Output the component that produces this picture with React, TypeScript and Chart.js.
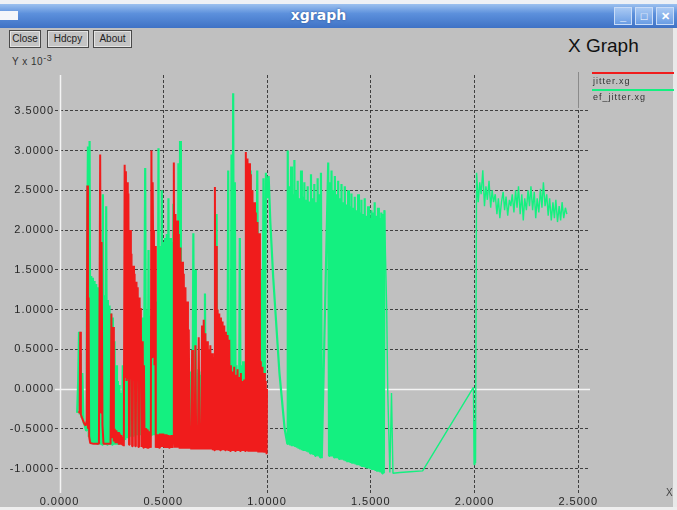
import React, { useEffect, useRef } from "react";
import { Chart, registerables } from "chart.js";

Chart.register(...registerables);

const seriesNames = ["jitter.xg", "ef_jitter.xg"];
const seriesColors = ["#f01c1c", "#14f080"];
const xTickValues = [0, 0.5, 1.0, 1.5, 2.0, 2.5];
const yTickValues = [-1.0, -0.5, 0, 0.5, 1.0, 1.5, 2.0, 2.5, 3.0, 3.5];
const windowTitle = "xgraph";
const plotTitle = "X Graph";
const buttons = ["Close", "Hdcpy", "About"];
const yUnit = "Y x 10";
const yExp = "-3";
const xUnit = "X";

// jitter.xg (red) — [x, y] pairs
const jitterLeft = [
  [0.092, -0.28], [0.097, -0.3], [0.1, 0.72], [0.103, -0.32], [0.108, -0.36], [0.114, -0.4],
  [0.12, -0.44], [0.126, -0.46], [0.131, -0.4], [0.134, 2.56], [0.137, -0.5], [0.14, 1.15],
  [0.143, -0.6], [0.148, -0.68], [0.165, -0.69], [0.19, -0.69], [0.196, 2.95], [0.2, -0.3],
  [0.203, 1.85], [0.207, -0.45], [0.212, -0.69], [0.23, -0.69], [0.246, -0.69], [0.25, 0.95],
  [0.254, -0.62], [0.258, 0.78], [0.262, -0.66], [0.266, -0.5], [0.27, -0.68], [0.274, -0.52],
  [0.278, -0.68], [0.282, -0.54], [0.286, -0.7], [0.29, -0.56], [0.294, -0.7], [0.298, -0.58],
  [0.302, -0.7], [0.306, -0.6], [0.31, -0.72],
];
const jitterMid = [
  [0.314, 2.82], [0.317, 0.15], [0.32, 2.74], [0.323, 0.1], [0.326, 2.6], [0.329, 0.12],
  [0.332, 2.46], [0.335, -0.7], [0.338, -0.54], [0.341, 2.0], [0.344, 0.12], [0.347, 1.7],
  [0.35, -0.72], [0.353, -0.5], [0.356, 1.55], [0.359, 0.1], [0.362, 1.45], [0.365, -0.72],
  [0.368, -0.49], [0.371, 1.35], [0.374, 0.15], [0.377, 1.28], [0.38, -0.73], [0.383, -0.49],
  [0.386, 1.15], [0.389, 0.12], [0.392, 1.02], [0.395, -0.73], [0.398, -0.49], [0.401, 0.6],
  [0.404, -0.74], [0.407, 0.3], [0.41, -0.74], [0.413, -0.49], [0.416, -0.74], [0.419, -0.5],
  [0.422, -0.74], [0.425, -0.51], [0.428, -0.74], [0.431, -0.53], [0.434, -0.74], [0.437, -0.55],
  [0.44, -0.74], [0.443, 3.0], [0.446, 0.4], [0.449, 2.6], [0.452, 1.5], [0.455, 2.0],
  [0.458, 0.3], [0.461, 1.8], [0.464, -0.74], [0.468, -0.57], [0.472, -0.74], [0.476, -0.57],
  [0.48, -0.74], [0.484, -0.56], [0.488, -0.73], [0.492, -0.56], [0.496, -0.73], [0.5, -0.56],
  [0.504, -0.73], [0.508, -0.57], [0.512, -0.74], [0.516, -0.57], [0.52, -0.74], [0.524, -0.58],
  [0.528, -0.74], [0.532, -0.58], [0.536, -0.74], [0.54, -0.58], [0.544, -0.74], [0.548, -0.58],
];
const jitterRight = [
  [0.551, 2.85], [0.555, -0.74], [0.559, 2.2], [0.563, -0.74], [0.567, 2.12], [0.571, -0.74],
  [0.575, 1.95], [0.579, -0.75], [0.583, 1.78], [0.587, -0.75], [0.591, 1.6], [0.595, -0.75],
  [0.599, 1.45], [0.603, -0.75], [0.607, 1.28], [0.611, -0.75], [0.615, 1.1], [0.619, -0.75],
  [0.623, 0.75], [0.627, -0.75], [0.631, -0.6], [0.635, -0.76], [0.639, 0.49], [0.643, -0.76],
  [0.647, -0.6], [0.651, -0.76], [0.655, 0.55], [0.659, -0.76], [0.663, -0.61], [0.667, -0.76],
  [0.671, 0.65], [0.675, -0.76], [0.679, -0.61], [0.683, -0.76], [0.687, 0.8], [0.691, -0.76],
  [0.695, 0.87], [0.699, -0.76], [0.703, 0.7], [0.707, -0.76], [0.711, 0.6], [0.715, -0.76],
  [0.719, 0.5], [0.723, -0.76], [0.727, 0.55], [0.731, -0.76], [0.735, 0.45], [0.739, -0.77],
  [0.743, 0.4], [0.746, -0.77], [0.749, 2.54], [0.752, -0.77], [0.755, 1.8], [0.758, -0.77],
  [0.762, 1.0], [0.766, -0.77], [0.77, 0.95], [0.774, -0.77], [0.778, 0.9], [0.782, -0.77],
  [0.786, 0.85], [0.79, -0.77], [0.794, 0.8], [0.798, -0.77], [0.802, 0.72], [0.806, -0.77],
  [0.81, 0.68], [0.814, -0.78], [0.818, 0.62], [0.822, -0.78], [0.826, 0.3], [0.83, -0.78],
  [0.834, 0.22], [0.838, -0.78], [0.842, 0.28], [0.846, -0.78], [0.85, 0.18], [0.854, -0.78],
  [0.858, 0.25], [0.862, -0.78], [0.866, 0.15], [0.87, -0.78], [0.874, 0.2], [0.878, -0.78],
  [0.882, 0.1], [0.886, -0.78], [0.89, 0.12], [0.894, -0.78], [0.898, 2.98], [0.902, -0.78],
  [0.906, 2.9], [0.91, -0.79], [0.914, 2.84], [0.918, -0.79], [0.922, 2.7], [0.926, -0.79],
  [0.93, 2.5], [0.934, -0.79], [0.938, 2.35], [0.942, -0.79], [0.946, 2.22], [0.95, -0.79],
  [0.954, 2.1], [0.958, -0.8], [0.962, 1.96], [0.966, -0.8], [0.97, 0.35], [0.974, -0.8],
  [0.978, 0.28], [0.982, -0.8], [0.986, 0.2], [0.99, -0.8], [0.994, 0.1], [0.998, -0.82],
  [1.0, 0.0],
];

// ef_jitter.xg (green)
const efJitterLeft = [
  [0.085, -0.3], [0.09, 0.1], [0.094, 0.72], [0.098, -0.32], [0.102, 0.45], [0.106, -0.36],
  [0.11, 0.2], [0.116, -0.42], [0.122, -0.46], [0.128, -0.52], [0.132, 1.1], [0.137, 3.05],
  [0.141, -0.6], [0.145, 3.12], [0.149, -0.66], [0.153, 1.42], [0.157, -0.68], [0.161, 1.4],
  [0.165, -0.68], [0.169, 1.36], [0.173, -0.68], [0.177, 1.32], [0.181, -0.69], [0.185, 1.28],
  [0.189, -0.69], [0.193, 1.25], [0.197, -0.7], [0.201, 1.22], [0.205, -0.7], [0.209, 2.45],
  [0.213, -0.7], [0.217, 1.18], [0.221, -0.7], [0.225, 2.3], [0.229, -0.7], [0.233, 1.12],
  [0.237, -0.7], [0.241, 1.05], [0.245, -0.7], [0.249, 0.95], [0.253, -0.7], [0.257, 0.9],
  [0.261, -0.7], [0.265, 0.6], [0.269, -0.7], [0.273, 0.3], [0.277, -0.7], [0.281, 0.1],
  [0.285, -0.7], [0.289, 0.05], [0.293, -0.68], [0.297, -0.05], [0.301, -0.68], [0.305, 0.3],
  [0.309, -0.66], [0.313, 0.35], [0.317, -0.64], [0.321, 0.2], [0.325, -0.62], [0.329, 0.2],
];
const efJitterMid = [
  [0.333, -0.6], [0.337, 0.15], [0.341, -0.6], [0.345, 0.2], [0.349, -0.6], [0.353, 0.15],
  [0.357, -0.6], [0.361, 0.18], [0.365, -0.58], [0.369, 0.15], [0.373, -0.58], [0.377, 0.2],
  [0.381, -0.58], [0.385, 0.15], [0.389, -0.58], [0.393, 0.25], [0.397, -0.58], [0.401, 0.9],
  [0.405, -0.58], [0.409, 0.95], [0.413, 2.78], [0.417, -0.58], [0.421, 1.0], [0.425, -0.58],
  [0.429, 1.75], [0.433, -0.58], [0.437, 0.92], [0.441, -0.58], [0.445, 0.9], [0.449, -0.58],
  [0.453, 0.92], [0.457, -0.58], [0.461, 0.95], [0.465, -0.58], [0.469, 1.1], [0.473, -0.58],
  [0.477, 3.03], [0.481, -0.58], [0.485, 1.8], [0.489, -0.58], [0.493, 2.5], [0.497, -0.58],
  [0.501, 1.85], [0.505, -0.58], [0.509, 1.9], [0.513, -0.58], [0.517, 1.95], [0.521, -0.58],
  [0.525, 2.4], [0.529, -0.58], [0.533, 1.9], [0.537, -0.58], [0.541, 1.85], [0.545, -0.58],
  [0.549, 2.33], [0.553, -0.58], [0.557, 1.0], [0.561, -0.58], [0.565, 1.0], [0.569, -0.58],
  [0.573, 2.84], [0.577, -0.58], [0.581, 3.12], [0.585, -0.58], [0.589, 1.0], [0.593, -0.58],
  [0.597, 0.9], [0.601, -0.58], [0.605, 0.6], [0.609, -0.58], [0.613, 0.3], [0.617, -0.58],
];
const efJitterRight = [
  [0.621, 0.2], [0.625, -0.58], [0.629, 0.22], [0.633, -0.58], [0.637, 0.18], [0.641, -0.58],
  [0.645, 1.96], [0.649, -0.58], [0.653, 1.5], [0.657, -0.58], [0.661, 0.2], [0.665, -0.58],
  [0.669, 0.25], [0.673, -0.58], [0.677, 0.18], [0.681, -0.58], [0.685, 0.22], [0.689, -0.58],
  [0.693, 0.2], [0.697, -0.58], [0.701, 1.2], [0.705, -0.58], [0.709, 0.18], [0.713, -0.58],
  [0.717, 0.22], [0.721, -0.58], [0.725, 0.2], [0.729, -0.58], [0.733, 0.25], [0.737, -0.58],
  [0.741, 0.2], [0.745, -0.58], [0.749, 0.22], [0.753, -0.58], [0.757, 2.2], [0.761, -0.58],
  [0.765, 0.2], [0.769, -0.58], [0.773, 0.25], [0.777, -0.58], [0.781, 0.2], [0.785, -0.58],
  [0.789, 0.22], [0.793, -0.58], [0.797, 0.2], [0.801, -0.58], [0.805, 0.25], [0.809, -0.58],
  [0.813, 2.75], [0.817, -0.58], [0.821, 0.3], [0.825, -0.58], [0.829, 2.95], [0.833, -0.58],
  [0.837, 3.72], [0.841, -0.58], [0.845, 2.6], [0.849, -0.58], [0.853, 0.3], [0.857, -0.58],
  [0.861, 0.25], [0.865, -0.58], [0.869, 1.9], [0.873, -0.58], [0.877, 0.3], [0.881, -0.58],
  [0.885, 0.35], [0.889, -0.58], [0.893, 0.3], [0.897, -0.58], [0.905, 1.5], [0.913, -0.58],
  [0.921, 2.75], [0.929, -0.58], [0.937, 1.2], [0.945, -0.58], [0.953, 2.75], [0.961, -0.58],
  [0.969, 1.5], [0.977, -0.58], [0.983, 2.65], [0.989, -0.4], [0.995, 2.72], [1.001, 2.4],
  [1.008, 2.68], [1.016, 2.1], [1.03, 1.4], [1.06, 0.2], [1.085, -0.5], [1.098, -0.69],
];
const efJitterBlock1 = [
  [1.1, 3.0], [1.104, -0.7], [1.108, 2.55], [1.112, -0.71], [1.116, 2.8], [1.12, -0.72],
  [1.124, 2.45], [1.128, -0.72], [1.132, 2.88], [1.136, -0.73], [1.14, 2.5], [1.144, -0.74],
  [1.148, 2.62], [1.152, -0.75], [1.156, 2.4], [1.16, -0.76], [1.164, 2.75], [1.168, -0.77],
  [1.172, 2.42], [1.176, -0.78], [1.18, 2.6], [1.184, -0.78], [1.188, 2.38], [1.192, -0.79],
  [1.196, 2.55], [1.2, -0.8], [1.204, 2.36], [1.208, -0.81], [1.212, 2.7], [1.216, -0.82],
  [1.22, 2.4], [1.224, -0.83], [1.228, 2.58], [1.232, -0.84], [1.236, 2.35], [1.24, -0.84],
  [1.244, 2.65], [1.248, -0.85], [1.252, 2.45], [1.256, -0.86], [1.26, 2.72], [1.264, -0.87],
];
const efJitterBlock2 = [
  [1.295, 2.85], [1.299, -0.84], [1.303, 2.6], [1.307, -0.85], [1.311, 2.75], [1.315, -0.85],
  [1.319, 2.5], [1.323, -0.86], [1.327, 2.68], [1.331, -0.87], [1.335, 2.45], [1.339, -0.87],
  [1.343, 2.62], [1.347, -0.88], [1.351, 2.4], [1.355, -0.89], [1.359, 2.58], [1.363, -0.89],
  [1.367, 2.35], [1.371, -0.9], [1.375, 2.55], [1.379, -0.91], [1.383, 2.32], [1.387, -0.92],
  [1.391, 2.5], [1.395, -0.92], [1.399, 2.3], [1.403, -0.93], [1.407, 2.46], [1.411, -0.94],
  [1.415, 2.28], [1.419, -0.94], [1.423, 2.42], [1.427, -0.95], [1.431, 2.25], [1.435, -0.96],
  [1.439, 2.45], [1.443, -0.96], [1.447, 2.22], [1.451, -0.97], [1.455, 2.38], [1.459, -0.98],
  [1.463, 2.2], [1.467, -0.98], [1.471, 2.4], [1.475, -0.99], [1.479, 2.18], [1.483, -1.0],
  [1.487, 2.3], [1.491, -1.0], [1.495, 2.15], [1.499, -1.01], [1.503, 2.25], [1.507, -1.02],
  [1.511, 2.22], [1.515, -1.02], [1.519, 2.35], [1.523, -1.03], [1.527, 2.18], [1.531, -1.04],
  [1.535, 2.28], [1.539, -1.04], [1.543, 2.15], [1.547, -1.05], [1.551, 2.22], [1.555, -1.06],
  [1.559, 2.2], [1.563, -1.06],
];
const efJitterTail = [
  [1.566, 2.25], [1.577, 0.98], [1.582, -0.05], [1.592, -1.05], [1.6, -0.05], [1.607, -1.06],
  [1.64, -1.05], [1.69, -1.04], [1.75, -1.03], [1.995, 0.02], [1.998, -0.95], [2.002, -0.4],
  [2.005, -0.93], [2.01, 2.72], [2.018, 2.35], [2.025, 2.6], [2.032, 2.45], [2.04, 2.75],
  [2.048, 2.3], [2.055, 2.55], [2.062, 2.38], [2.07, 2.62], [2.078, 2.28], [2.085, 2.5],
  [2.092, 2.35], [2.1, 2.45], [2.108, 2.2], [2.115, 2.4], [2.122, 2.15], [2.13, 2.35],
  [2.138, 2.48], [2.145, 2.25], [2.152, 2.42], [2.16, 2.18], [2.168, 2.38], [2.175, 2.3],
  [2.182, 2.45], [2.19, 2.22], [2.198, 2.5], [2.205, 2.28], [2.212, 2.55], [2.22, 2.2],
  [2.228, 2.45], [2.235, 2.12], [2.242, 2.4], [2.25, 2.25], [2.258, 2.5], [2.265, 2.3],
  [2.272, 2.55], [2.28, 2.25], [2.288, 2.48], [2.295, 2.15], [2.302, 2.4], [2.31, 2.22],
  [2.318, 2.52], [2.325, 2.28], [2.332, 2.6], [2.34, 2.3], [2.348, 2.45], [2.355, 2.18],
  [2.362, 2.4], [2.37, 2.12], [2.378, 2.35], [2.385, 2.15], [2.392, 2.38], [2.4, 2.1],
  [2.408, 2.3], [2.415, 2.12], [2.422, 2.35], [2.43, 2.15], [2.438, 2.28], [2.445, 2.2],
];

const toPoints = (rows: number[][]) => rows.map(([x, y]) => ({ x, y }));

const abs = (s: React.CSSProperties): React.CSSProperties => ({ position: "absolute", ...s });

export default function App() {
  const canvasRef = useRef<HTMLCanvasElement | null>(null);

  useEffect(() => {
    const canvas = canvasRef.current;
    if (!canvas) return;

    const zeroLines = {
      id: "zeroLines",
      beforeDatasetsDraw(chart: any) {
        const { ctx, chartArea: a, scales } = chart;
        const px = Math.round(scales.x.getPixelForValue(0)) + 0.5;
        const py = Math.round(scales.y.getPixelForValue(0)) + 0.5;
        ctx.save();
        ctx.strokeStyle = "#f4f4f4";
        ctx.lineWidth = 1.5;
        ctx.beginPath();
        ctx.moveTo(px, a.top);
        ctx.lineTo(px, a.bottom);
        ctx.moveTo(a.left, py);
        ctx.lineTo(a.right, py);
        ctx.stroke();
        ctx.restore();
      },
    };
    const spacing = {
      id: "spacing",
      beforeDraw(chart: any) {
        try {
          (chart.ctx as any).letterSpacing = "1px";
        } catch (e) {}
      },
    };

    const tickFont = { family: "'Liberation Sans', Arial, sans-serif", size: 11 };
    const gridColor = (ctx: any) =>
      ctx.tick && ctx.tick.value === 0 ? "rgba(0,0,0,0)" : "rgba(40,40,40,0.85)";

    const chart = new Chart(canvas, {
      type: "line",
      data: {
        datasets: [
          {
            label: seriesNames[0],
            data: toPoints([...jitterLeft, ...jitterMid, ...jitterRight]),
            borderColor: seriesColors[0],
            borderWidth: 2,
            pointRadius: 0,
            tension: 0,
            fill: false,
            borderJoinStyle: "bevel",
            order: 0,
          },
          {
            label: seriesNames[1],
            data: toPoints([
              ...efJitterLeft,
              ...efJitterMid,
              ...efJitterRight,
              ...efJitterBlock1,
              ...efJitterBlock2,
              ...efJitterTail,
            ]),
            borderColor: seriesColors[1],
            borderWidth: 2.2,
            pointRadius: 0,
            tension: 0,
            fill: false,
            borderJoinStyle: "bevel",
            segment: {
              borderWidth: (c: any) => (c.p0.parsed.x > 1.565 ? 1.4 : undefined),
            },
            order: 1,
          },
        ],
      },
      options: {
        animation: false,
        responsive: false,
        maintainAspectRatio: false,
        events: [],
        layout: { padding: { top: 75, right: 87, left: 0, bottom: 0 } },
        plugins: { legend: { display: false }, tooltip: { enabled: false }, title: { display: false } },
        scales: {
          x: {
            type: "linear",
            min: -0.0217,
            max: 2.5566,
            afterBuildTicks: (s: any) => {
              s.ticks = xTickValues.map((v) => ({ value: v }));
            },
            afterFit: (s: any) => {
              s.height = 17;
            },
            ticks: {
              font: tickFont,
              color: "#262626",
              padding: 2,
              maxRotation: 0,
              autoSkip: false,
              callback: (v: any) => Number(v).toFixed(4),
            },
            grid: { color: gridColor, drawTicks: false, lineWidth: 1 },
            border: { display: false, dash: [3, 2] },
          },
          y: {
            type: "linear",
            min: -1.308,
            max: 3.95,
            afterBuildTicks: (s: any) => {
              s.ticks = yTickValues.map((v) => ({ value: v }));
            },
            afterFit: (s: any) => {
              s.width = 55;
            },
            ticks: {
              font: tickFont,
              color: "#262626",
              padding: 1,
              autoSkip: false,
              callback: (v: any) => Number(v).toFixed(4),
            },
            grid: { color: gridColor, drawTicks: false, lineWidth: 1 },
            border: { display: false, dash: [3, 2] },
          },
        },
      },
      plugins: [spacing, zeroLines],
    } as any);
    return () => chart.destroy();
  }, []);

  const font = "'Liberation Sans', Arial, sans-serif";

  return (
    <div
      style={{
        position: "fixed",
        left: 0,
        top: 0,
        width: 677,
        height: 510,
        background: "#c0c0c0",
        overflow: "hidden",
        fontFamily: font,
      }}
    >
      {/* window chrome */}
      <div style={abs({ left: 0, top: 0, width: 677, height: 4, background: "#eef1f5" })} />
      <div
        style={abs({
          left: 0,
          top: 4,
          width: 677,
          height: 24,
          background: "linear-gradient(to bottom, #9cc1ef 0%, #5c90dc 40%, #3f72c5 100%)",
        })}
      />
      <div style={abs({ left: 0, top: 11, width: 18, height: 9, background: "#f4f6fa" })} />
      <div
        style={abs({
          left: 0,
          top: 7,
          width: 637,
          textAlign: "center",
          color: "#ffffff",
          fontWeight: "bold",
          fontSize: 14,
          fontFamily: "'DejaVu Sans', sans-serif",
          textShadow: "0 0 2px #2a4f8f",
        })}
      >
        {windowTitle}
      </div>
      {["_", "\u25A1", "\u2715"].map((s, i) => (
        <div
          key={i}
          style={abs({
            left: 614 + i * 21,
            top: 7,
            width: 18,
            height: 18,
            background: "linear-gradient(to bottom, #a9c9f3, #6a9de4)",
            border: "1px solid #c9dcf7",
            boxSizing: "border-box",
            color: "#ffffff",
            fontSize: 11,
            fontWeight: "bold",
            textAlign: "center",
            lineHeight: "16px",
          })}
        >
          {s}
        </div>
      ))}
      <div style={abs({ left: 673, top: 28, width: 4, height: 482, background: "#e9e9e9" })} />
      <div style={abs({ left: 0, top: 507, width: 677, height: 3, background: "#eeeeee" })} />

      {/* buttons */}
      {buttons.map((b, i) => {
        const lefts = [9, 47, 93];
        const widths = [32, 42, 39];
        return (
          <div
            key={b}
            style={abs({
              left: lefts[i],
              top: 30,
              width: widths[i],
              height: 18,
              border: "1px solid #4a4a4a",
              boxShadow: "inset 0 0 0 1px #e4e4e4",
              boxSizing: "border-box",
              fontSize: 10,
              lineHeight: "16px",
              textAlign: "center",
              color: "#222",
              background: "#c4c4c4",
            })}
          >
            {b}
          </div>
        );
      })}

      <div style={abs({ left: 568, top: 35, fontSize: 19, color: "#111", whiteSpace: "nowrap" })}>
        {plotTitle}
      </div>

      <div style={abs({ left: 12, top: 53, fontSize: 10, color: "#333", whiteSpace: "nowrap", letterSpacing: 0.5 })}>
        {yUnit}
        <sup style={{ fontSize: 9, verticalAlign: "4px" }}>{yExp}</sup>
      </div>

      <canvas
        ref={canvasRef}
        width={677}
        height={510}
        style={{ position: "absolute", left: 0, top: 0, width: 677, height: 510, display: "block" }}
      />

      {/* legend */}
      <div style={abs({ left: 578, top: 72, width: 1, height: 36, background: "#8a8a8a" })} />
      {seriesNames.map((n, i) => (
        <React.Fragment key={n}>
          <div
            style={abs({
              left: 592,
              top: 72 + i * 17,
              width: 82,
              height: 2,
              background: seriesColors[i],
            })}
          />
          <div
            style={abs({
              left: 593,
              top: 76 + i * 16,
              fontSize: 9,
              color: "#333",
              letterSpacing: 1,
              whiteSpace: "nowrap",
            })}
          >
            {n}
          </div>
        </React.Fragment>
      ))}

      <div style={abs({ left: 666, top: 487, fontSize: 10, color: "#444" })}>{xUnit}</div>
    </div>
  );
}
